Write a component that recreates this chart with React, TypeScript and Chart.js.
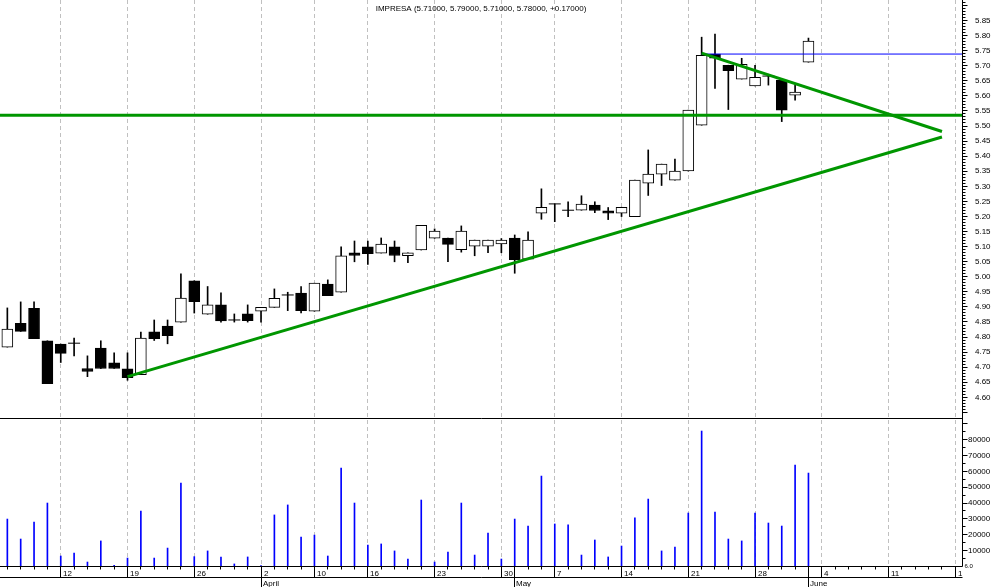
import { useEffect, useRef } from 'react';
import { Chart, registerables } from 'chart.js';

Chart.register(...registerables);

const TITLE = 'IMPRESA (5.71000, 5.79000, 5.71000, 5.78000, +0.17000)';

// Trading days: index 0 = 6 Mar 2007 ... index 60 = 1 Jun 2007
const opens = [
  4.765, 4.844, 4.894, 4.786, 4.775, 4.778, 4.694, 4.762, 4.713, 4.693,
  4.674, 4.816, 4.835, 4.848, 4.985, 4.874, 4.905, 4.855, 4.875, 4.884,
  4.897, 4.938, 4.944, 4.884, 4.974, 4.947, 5.078, 5.098, 5.077, 5.098,
  5.068, 5.087, 5.126, 5.127, 5.088, 5.100, 5.100, 5.107, 5.127, 5.057,
  5.209, 5.240, 5.219, 5.219, 5.236, 5.217, 5.209, 5.198, 5.309, 5.339,
  5.319, 5.349, 5.501, 5.737, 5.700, 5.654, 5.631, 5.664, 5.651, 5.601,
  5.710,
];
const highs = [
  4.895, 4.915, 4.915, 4.786, 4.775, 4.795, 4.736, 4.786, 4.746, 4.746,
  4.815, 4.855, 4.855, 5.008, 4.985, 4.966, 4.945, 4.875, 4.905, 4.897,
  4.958, 4.947, 4.966, 4.977, 4.988, 5.098, 5.117, 5.117, 5.127, 5.117,
  5.078, 5.169, 5.157, 5.127, 5.167, 5.120, 5.120, 5.125, 5.137, 5.147,
  5.290, 5.240, 5.247, 5.267, 5.247, 5.228, 5.229, 5.319, 5.419, 5.372,
  5.389, 5.551, 5.793, 5.803, 5.700, 5.723, 5.700, 5.670, 5.651, 5.634,
  5.790,
];
const lows = [
  4.765, 4.817, 4.793, 4.644, 4.714, 4.736, 4.667, 4.694, 4.694, 4.655,
  4.674, 4.787, 4.776, 4.848, 4.878, 4.874, 4.848, 4.848, 4.848, 4.848,
  4.897, 4.886, 4.878, 4.884, 4.936, 4.947, 5.048, 5.039, 5.077, 5.048,
  5.045, 5.087, 5.126, 5.048, 5.080, 5.068, 5.078, 5.078, 5.010, 5.057,
  5.189, 5.181, 5.198, 5.219, 5.211, 5.188, 5.198, 5.198, 5.268, 5.301,
  5.319, 5.349, 5.501, 5.623, 5.553, 5.654, 5.631, 5.634, 5.513, 5.584,
  5.710,
];
const closes = [
  4.825, 4.817, 4.793, 4.644, 4.744, 4.778, 4.684, 4.694, 4.694, 4.664,
  4.795, 4.793, 4.803, 4.928, 4.916, 4.905, 4.852, 4.855, 4.853, 4.897,
  4.927, 4.938, 4.886, 4.977, 4.936, 5.068, 5.069, 5.075, 5.107, 5.069,
  5.078, 5.169, 5.150, 5.106, 5.150, 5.120, 5.120, 5.120, 5.055, 5.120,
  5.229, 5.240, 5.219, 5.239, 5.218, 5.209, 5.229, 5.319, 5.339, 5.372,
  5.349, 5.551, 5.733, 5.723, 5.682, 5.703, 5.660, 5.664, 5.551, 5.611,
  5.780,
];
const volumes = [
  29600, 17000, 27700, 39700, 6300, 8200, 2500, 15800, 400, 5000,
  34700, 5000, 11300, 52300, 5900, 9500, 5700, 1300, 5700, 300,
  32200, 38500, 18300, 19500, 6300, 61800, 39700, 13200, 13900, 9500,
  4400, 41600, 2500, 8800, 39700, 6900, 20800, 4400, 29600, 25200,
  56700, 26500, 25900, 6900, 16400, 5700, 12600, 30300, 42200, 9500,
  12000, 33400, 85100, 34000, 17000, 15800, 33400, 27100, 25200, 63700,
  58600,
];

// x axis: slots include future trading days up to 18 June
const xMin = -0.55;
const xMax = 71.5;
const totalSlots = 72;
const weekTickIndex = [4, 9, 14, 19, 23, 27, 32, 37, 41, 46, 51, 56, 61, 66, 71];
const weekTickLabels = ['12', '19', '26', '2', '10', '16', '23', '30', '7', '14', '21', '28', '4', '11', '18'];
const monthTickIndex = [19, 38, 60];
const monthTickLabels = ['April', 'May', 'June'];

const priceTickLabels = [
  '4.60', '4.65', '4.70', '4.75', '4.80', '4.85', '4.90', '4.95', '5.00', '5.05',
  '5.10', '5.15', '5.20', '5.25', '5.30', '5.35', '5.40', '5.45', '5.50', '5.55',
  '5.60', '5.65', '5.70', '5.75', '5.80', '5.85',
];
const volumeTickLabels = ['10000', '20000', '30000', '40000', '50000', '60000', '70000', '80000'];

const priceMin = 4.039;
const priceMax = 5.9163;
const volumeMax = 356873;

// drawn studies
const supportLine = [{ x: 9, y: 4.667 }, { x: 70, y: 5.462 }];
const resistanceLine = [{ x: 52, y: 5.740 }, { x: 70, y: 5.480 }];
const horizontalLevel = 5.534;
const highLevel = 5.737;
const highLevelStart = 52;

const FONT = '8px "Liberation Sans", Arial, sans-serif';

const axesPlugin = {
  id: 'stockAxes',
  beforeDatasetsDraw(chart: any) {
    const { ctx, chartArea, scales } = chart;
    const xs = scales.x;
    ctx.save();
    ctx.strokeStyle = '#c0c0c0';
    ctx.lineWidth = 1;
    ctx.setLineDash([4, 3]);
    for (const i of weekTickIndex) {
      const px = Math.floor(xs.getPixelForValue(i)) + 0.5;
      ctx.beginPath();
      ctx.moveTo(px, chartArea.top);
      ctx.lineTo(px, chartArea.bottom);
      ctx.stroke();
    }
    ctx.restore();
  },
  afterDraw(chart: any) {
    const { ctx, chartArea, scales } = chart;
    const xs = scales.x;
    const yp = scales.yPrice;
    const yv = scales.yVol;
    const right = chartArea.right;
    const bottom = chartArea.bottom;
    const sepY = 418.5;
    ctx.save();
    ctx.setLineDash([]);
    ctx.strokeStyle = '#000';
    ctx.fillStyle = '#000';
    ctx.lineWidth = 1;
    const line = (x1: number, y1: number, x2: number, y2: number) => {
      ctx.beginPath();
      ctx.moveTo(x1, y1);
      ctx.lineTo(x2, y2);
      ctx.stroke();
    };
    const ax = Math.floor(right) + 0.5;
    // right axis line
    line(ax, 0, ax, bottom + 0.5);
    // panel separator
    line(0, sepY, ax, sepY);
    // bottom axis lines
    const b1 = Math.floor(bottom) + 0.5;
    const b2 = b1 + 11;
    line(0, b1, ax, b1);
    line(0, b2, ax, b2);

    // price ticks
    for (let k = 455; k <= 591; k++) {
      const p = k / 100;
      const y = Math.round(yp.getPixelForValue(p)) + 0.5;
      if (y < 0 || y > sepY - 1) continue;
      const len = k % 5 === 0 ? 5 : 3;
      line(ax, y, ax + len, y);
    }
    // volume ticks
    for (let k = 1; k <= 18; k++) {
      const v = k * 5000;
      const y = Math.round(yv.getPixelForValue(v)) + 0.5;
      if (y < sepY + 1) continue;
      const len = k % 2 === 0 ? 5 : 3;
      line(ax, y, ax + len, y);
    }
    ctx.font = FONT;
    ctx.textBaseline = 'middle';
    ctx.textAlign = 'left';
    for (const lbl of priceTickLabels) {
      const y = yp.getPixelForValue(parseFloat(lbl));
      ctx.fillText(lbl, 975, y + 0.5);
    }
    for (const lbl of volumeTickLabels) {
      const y = yv.getPixelForValue(parseFloat(lbl));
      ctx.fillText(lbl, 968, y + 0.5);
    }

    // day ticks
    for (let i = 0; i < totalSlots; i++) {
      const px = Math.floor(xs.getPixelForValue(i)) + 0.5;
      if (px > right) continue;
      line(px, b1, px, b1 + 3);
    }
    // week labels
    ctx.save();
    ctx.beginPath();
    ctx.rect(0, b1, right, 30);
    ctx.clip();
    ctx.textBaseline = 'alphabetic';
    weekTickIndex.forEach((idx, n) => {
      const px = Math.floor(xs.getPixelForValue(idx)) + 0.5;
      line(px, b1, px, b2);
      ctx.fillText(weekTickLabels[n], px + 2.5, b1 + 9);
    });
    monthTickIndex.forEach((idx, n) => {
      const px = Math.floor(xs.getPixelForValue(idx)) + 0.5;
      line(px, b1, px, b2 + 11);
      ctx.fillText(monthTickLabels[n], px + 1.5, b2 + 8.5);
    });
    ctx.restore();

    // tiny corner tag
    ctx.font = '6px "Liberation Sans", Arial, sans-serif';
    ctx.textBaseline = 'alphabetic';
    ctx.fillText('6.0', ax + 2, b1 + 1);

    // title
    ctx.font = FONT;
    ctx.textAlign = 'center';
    ctx.fillText(TITLE, (chartArea.left + right) / 2, 11);
    ctx.restore();
  },
};

export default function App() {
  const canvasRef = useRef<HTMLCanvasElement | null>(null);

  useEffect(() => {
    const canvas = canvasRef.current;
    if (!canvas) return;

    const idx = opens.map((_, i) => i);
    const bodyIdx = idx.filter((i) => opens[i] !== closes[i]);
    const dojiIdx = idx.filter((i) => opens[i] === closes[i]);

    const chart = new Chart(canvas, {
      type: 'bar',
      data: {
        datasets: [
          {
            type: 'line',
            data: supportLine,
            xAxisID: 'x',
            yAxisID: 'yPrice',
            borderColor: '#009600',
            borderWidth: 3,
            pointRadius: 0,
            tension: 0,
            order: 0,
          } as any,
          {
            type: 'line',
            data: resistanceLine,
            xAxisID: 'x',
            yAxisID: 'yPrice',
            borderColor: '#009600',
            borderWidth: 3,
            pointRadius: 0,
            tension: 0,
            order: 0,
          } as any,
          {
            type: 'line',
            data: [{ x: xMin, y: horizontalLevel }, { x: xMax, y: horizontalLevel }],
            xAxisID: 'x',
            yAxisID: 'yPrice',
            borderColor: '#009600',
            borderWidth: 3,
            pointRadius: 0,
            tension: 0,
            order: 0,
          } as any,
          {
            type: 'line',
            data: [{ x: highLevelStart, y: highLevel }, { x: xMax, y: highLevel }],
            xAxisID: 'x',
            yAxisID: 'yPrice',
            borderColor: '#0000ff',
            borderWidth: 1,
            pointRadius: 0,
            tension: 0,
            order: 0,
          } as any,
          {
            type: 'bar',
            data: bodyIdx.map((i) => ({ x: i, y: [opens[i], closes[i]] })),
            xAxisID: 'x',
            yAxisID: 'yPrice',
            backgroundColor: bodyIdx.map((i) => (closes[i] > opens[i] ? '#ffffff' : '#000000')),
            borderColor: '#000000',
            borderWidth: 1,
            borderSkipped: false,
            barThickness: 11,
            grouped: false,
            order: 1,
          } as any,
          {
            type: 'line',
            data: dojiIdx.map((i) => ({ x: i, y: closes[i] })),
            xAxisID: 'x',
            yAxisID: 'yPrice',
            showLine: false,
            pointStyle: 'line',
            pointRadius: 6,
            pointBorderWidth: 1,
            pointBorderColor: '#000000',
            pointBackgroundColor: '#000000',
            order: 1,
          } as any,
          {
            type: 'bar',
            data: idx.map((i) => ({ x: i, y: [lows[i], highs[i]] })),
            xAxisID: 'x',
            yAxisID: 'yPrice',
            backgroundColor: '#000000',
            borderWidth: 0,
            barThickness: 1,
            grouped: false,
            order: 2,
          } as any,
          {
            type: 'bar',
            data: idx.map((i) => ({ x: i, y: volumes[i] })),
            xAxisID: 'x',
            yAxisID: 'yVol',
            backgroundColor: '#0000ff',
            borderWidth: 0,
            barThickness: 1,
            grouped: false,
            order: 3,
          } as any,
        ],
      },
      options: {
        animation: false,
        responsive: false,
        devicePixelRatio: 1,
        layout: { autoPadding: false, padding: { left: 0, top: 0, right: 32, bottom: 21 } },
        plugins: {
          legend: { display: false },
          tooltip: { enabled: false },
          title: { display: false },
        },
        scales: {
          x: { type: 'linear', min: xMin, max: xMax, display: false, offset: false, bounds: 'data' },
          yPrice: { type: 'linear', min: priceMin, max: priceMax, display: false, bounds: 'data' },
          yVol: { type: 'linear', min: 0, max: volumeMax, display: false, bounds: 'data' },
        },
      } as any,
      plugins: [axesPlugin],
    });

    return () => chart.destroy();
  }, []);

  return (
    <div style={{ position: 'absolute', left: 0, top: 0, width: 994, height: 587, background: '#ffffff' }}>
      <canvas ref={canvasRef} width={994} height={587} style={{ display: 'block' }} />
    </div>
  );
}
